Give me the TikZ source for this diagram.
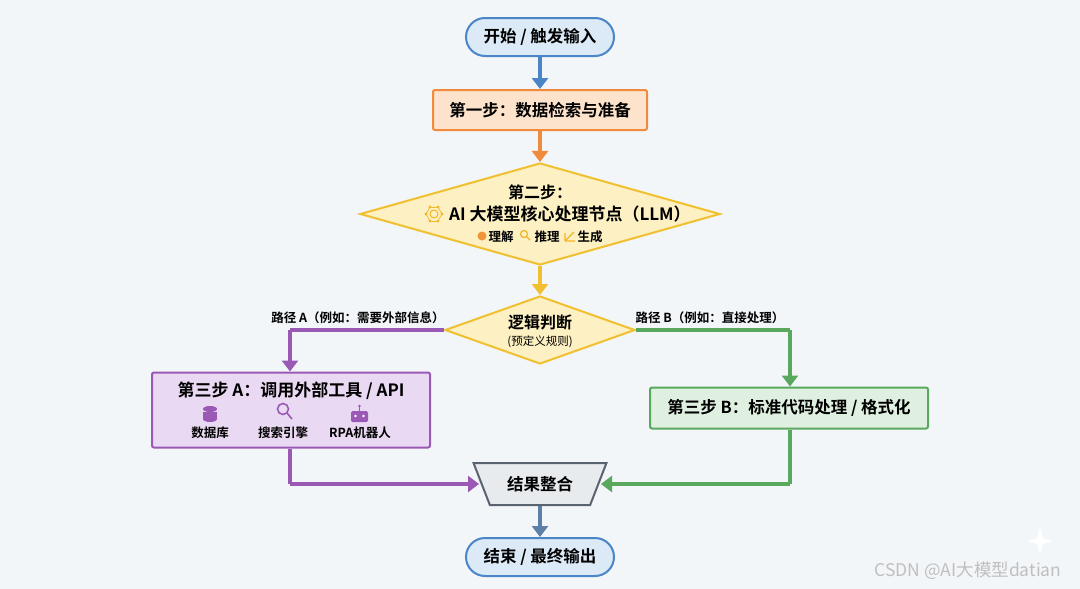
\documentclass[tikz,border=0pt]{standalone}
\usepackage{fontspec}
\setmainfont{Noto Sans CJK SC}[BoldFont={Noto Sans CJK SC Bold}]
\usetikzlibrary{shapes.geometric,arrows.meta}
\definecolor{bg}{HTML}{F3F6F9}
\definecolor{bluef}{HTML}{DCE9F6}\definecolor{blued}{HTML}{4A86C5}
\definecolor{orf}{HTML}{FDE3CC}\definecolor{ord}{HTML}{F08A3C}
\definecolor{yef}{HTML}{FDF0C2}\definecolor{yed}{HTML}{F0C030}
\definecolor{puf}{HTML}{EAD9F2}\definecolor{pud}{HTML}{9B59B6}
\definecolor{grf}{HTML}{DFF0E0}\definecolor{grd}{HTML}{5AA85E}
\definecolor{gyf}{HTML}{E8EBEE}\definecolor{gyd}{HTML}{5A6470}
\definecolor{sld}{HTML}{5B7FA6}
\tikzset{
  base/.style={draw,line width=2pt,font=\bfseries\fontsize{16.5}{19}\selectfont,align=center,inner sep=2pt},
  term/.style={base,rounded corners=19pt,minimum width=148pt,minimum height=38pt,fill=bluef,draw=blued},
  box/.style={base,rounded corners=2pt},
  dia/.style={base,diamond,aspect=3.5},
  arr/.style={line width=4pt,-{Triangle[length=11pt,width=16pt]}},
  lab/.style={font=\bfseries\fontsize{12.5}{14}\selectfont},
}
\begin{document}
\begin{tikzpicture}[x=1pt,y=-1pt]
\fill[bg] (0,0) rectangle (1080,589);
\useasboundingbox (0,0) rectangle (1080,589);
\node[term] (start) at (540,37) {开始 / 触发输入};
\node[box,fill=orf,draw=ord,minimum width=214pt,minimum height=40pt] (s1) at (540,110) {第一步：数据检索与准备};
\node[dia,fill=yef,draw=yed,minimum width=360pt,minimum height=102pt,inner sep=0pt] (s2) at (540,214) {};
\node[font=\bfseries\fontsize{16}{18}\selectfont] at (540,192) {第二步：};
\node[font=\bfseries\fontsize{17}{19}\selectfont,anchor=west,inner sep=0pt] (s2t) at (449,214) {AI 大模型核心处理节点（LLM）};
% gear icon
\begin{scope}[shift={(434,214)},yed!85!orange]
\draw[line width=1pt] (0,0) circle (4);
\foreach \a in {0,60,...,300}{\fill (\a:8) circle (1.6); \draw[line width=.7pt] (\a:8) -- (\a+60:8);}
\end{scope}
\node[lab] at (501,237) {理解};
\node[lab] at (547,237) {推理};
\node[lab] at (590,237) {生成};
\fill[ord!80!yed] (482,236) circle (4.5);
\draw[yed!80!orange,line width=1.2pt] (524,234) circle (3.5) (526.5,236.5) -- (530,240);
\draw[yed!80!orange,line width=1.2pt] (565,241) -- (575,241) (565,241) -- (565,233) (566,240) -- (574,232);
\node[dia,fill=yef,draw=yed,minimum width=190pt,minimum height=68pt,inner sep=0pt] (lg) at (540,330) {};
\node[font=\bfseries\fontsize{16}{18}\selectfont] at (540,322) {逻辑判断};
\node[font=\fontsize{11.5}{13}\selectfont] at (540,342) {(预定义规则)};
\node[box,fill=puf,draw=pud,minimum width=278pt,minimum height=75pt] (sa) at (291,410) {};
\node[font=\bfseries\fontsize{17}{19}\selectfont] at (291,391) {第三步 A：调用外部工具 / API};
\begin{scope}[pud]
\fill (210,409) ellipse (7 and 3); \fill (203,412) rectangle (217,419); \fill (210,419) ellipse (7 and 3);
\draw[line width=1.6pt] (283,409) circle (5.5) (287,413) -- (292,419);
\fill[rounded corners=1.5pt] (351,411) rectangle (368,422); \draw[line width=1pt] (359.5,411) -- (359.5,407); \fill (359.5,406) circle (1.4);
\fill[white] (355.5,416) circle (1.4) (363.5,416) circle (1.4);
\end{scope}
\node[lab] at (210,433) {数据库};
\node[lab] at (283,433) {搜索引擎};
\node[lab] at (360,433) {RPA机器人};
\node[box,fill=grf,draw=grd,minimum width=278pt,minimum height=41pt] (sb) at (789,408) {第三步 B：标准代码处理 / 格式化};
\node[trapezium,shape border rotate=180,trapezium left angle=62,trapezium right angle=62,trapezium stretches=true,minimum width=134pt,minimum height=42pt,draw=gyd,fill=gyf,line width=2pt,font=\bfseries\fontsize{16.5}{19}\selectfont] (mg) at (540,484) {结果整合};
\node[term] (end) at (540,557) {结束 / 最终输出};
\coordinate (la) at (290,330); \coordinate (lb) at (790,330);
\coordinate (ma) at (290,484); \coordinate (mb) at (790,484);
\draw[arr,blued] (start) -- (s1);
\draw[arr,ord] (s1) -- (s2);
\draw[arr,yed] (s2) -- (lg);
\draw[arr,pud,-] (lg.west) -- (la);
\draw[arr,pud] (la) -- (sa.north -| la);
\draw[arr,grd,-] (lg.east) -- (lb);
\draw[arr,grd] (lb) -- (sb.north -| lb);
\draw[arr,pud,-] (sa.south -| ma) -- (ma);
\draw[arr,pud] (ma) -- (479,484);
\draw[arr,grd,-] (sb.south -| mb) -- (mb);
\draw[arr,grd] (mb) -- (601,484);
\draw[arr,sld] (mg) -- (end);
\node[lab] at (358,318) {路径 A（例如：需要外部信息）};
\node[lab] at (710,318) {路径 B（例如：直接处理）};
\node[font=\fontsize{17.5}{20}\selectfont,text=gray!50] at (968,571) {CSDN @AI大模型datian};
\fill[white] (1040,528) -- (1043,538) -- (1053,541) -- (1043,544) -- (1040,554) -- (1037,544) -- (1027,541) -- (1037,538) -- cycle;
\end{tikzpicture}
\end{document}
